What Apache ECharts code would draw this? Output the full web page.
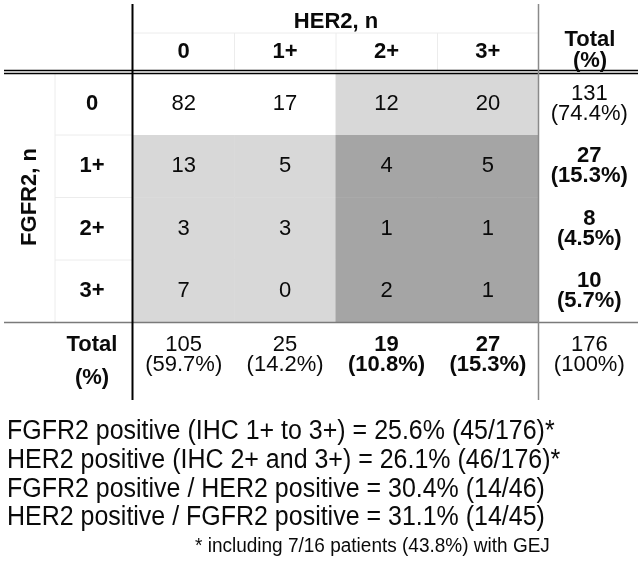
<!DOCTYPE html>
<html>
<head>
<meta charset="utf-8">
<script src="https://cdn.jsdelivr.net/npm/echarts@6/dist/echarts.min.js"></script>
<style>html,body{margin:0;padding:0;background:#fff;}#c{width:644px;height:562px;}</style>
</head>
<body>
<div id="c"></div>
<script>
// ---- data ----
const her2Levels = ['0', '1+', '2+', '3+'];
const fgfr2Levels = ['0', '1+', '2+', '3+'];
const her2Positive = [false, false, true, true];
const fgfr2Positive = [false, true, true, true];
// rows = FGFR2 level, columns = HER2 level
const counts = [
  [82, 17, 12, 20],
  [13, 5, 4, 5],
  [3, 3, 1, 1],
  [7, 0, 2, 1]
];
const rowTotals = [131, 27, 8, 10];
const rowPct = ['74.4%', '15.3%', '4.5%', '5.7%'];
const colTotals = [105, 25, 19, 27];
const colPct = ['59.7%', '14.2%', '10.8%', '15.3%'];
const grandTotal = 176;
const grandPct = '100%';
const notes = [
  'FGFR2 positive (IHC 1+ to 3+) = 25.6% (45/176)*',
  'HER2 positive (IHC 2+ and 3+) = 26.1% (46/176)*',
  'FGFR2 positive / HER2 positive = 30.4% (14/46)',
  'HER2 positive / FGFR2 positive = 31.1% (14/45)'
];
const footnote = '* including 7/16 patients (43.8%) with GEJ';

// ---- build ----
const FONT = '"Liberation Sans", Arial, sans-serif';
const INK = '#0a0a0a';
const xCats = her2Levels.concat(['Total']);

const mainData = [];
counts.forEach((row, r) => {
  row.forEach((v, c) => {
    const shade = (fgfr2Positive[r] ? 1 : 0) + (her2Positive[c] ? 1 : 0);
    mainData.push({ value: [c, r, shade, String(v)] });
  });
  mainData.push({
    value: [her2Levels.length, r, 0, rowTotals[r] + '\n(' + rowPct[r] + ')'],
    label: { fontWeight: fgfr2Positive[r] ? 'bold' : 'normal' }
  });
});
const totalData = colTotals.map((t, c) => ({
  value: [c, 0, 0, t + '\n(' + colPct[c] + ')'],
  label: { fontWeight: her2Positive[c] ? 'bold' : 'normal' }
}));
totalData.push({ value: [her2Levels.length, 0, 0, grandTotal + '\n(' + grandPct + ')'] });

const chart = echarts.init(document.getElementById('c'), null, { renderer: 'canvas' });

const line = (x1, y1, x2, y2, color, w) => ({
  type: 'line', z: 100, silent: true,
  shape: { x1, y1, x2, y2 },
  style: { stroke: color, lineWidth: w }
});
const txt = (x, y, text, size, weight, extra) => Object.assign({
  type: 'text', z: 100, silent: true, x, y,
  style: Object.assign({
    text, fontSize: size, fontWeight: weight, fontFamily: FONT, fill: INK,
    align: 'center', verticalAlign: 'middle'
  }, (extra && extra.style) || {})
}, extra && extra.props || {});

const faint = '#ececec';
const graphics = [
  // faint cell separators
  line(133, 33, 538, 33, faint, 1),
  line(234.5, 33, 234.5, 70, faint, 1),
  line(336, 33, 336, 70, faint, 1),
  line(437.5, 33, 437.5, 70, faint, 1),
  line(55, 74, 55, 322, faint, 1),
  line(55, 135, 132, 135, faint, 1),
  line(55, 197.5, 132, 197.5, faint, 1),
  line(55, 260, 132, 260, faint, 1),
  // structural lines
  line(4, 70.5, 638, 70.5, '#000', 1.3),
  line(4, 73.5, 638, 73.5, '#000', 1.3),
  line(4, 322.5, 638, 322.5, '#7a7a7a', 1.5),
  line(132.5, 4, 132.5, 400, '#000', 2),
  line(538.5, 4, 538.5, 400, '#8a8a8a', 1.5),
  // headers
  txt(336, 22, 'HER2, n', 22, 'bold'),
  txt(590, 50, 'Total\n(%)', 22, 'bold', { style: { lineHeight: 21 } }),
  txt(30, 197, 'FGFR2, n', 22, 'bold', { props: { rotation: Math.PI / 2 } })
];
const noteY = [432, 461, 490, 518];
notes.forEach((n, i) => {
  graphics.push(txt(7, noteY[i], n, 27, 'normal', { style: { align: 'left' }, props: { scaleX: 0.925 } }));
});
graphics.push(txt(195, 546, footnote, 20, 'normal', { style: { align: 'left' }, props: { scaleX: 0.95 } }));

const labelBase = {
  show: true, fontFamily: FONT, fontSize: 22, color: INK, lineHeight: 20,
  formatter: p => p.value[3]
};

chart.setOption({
  animation: false,
  backgroundColor: '#fff',
  grid: [
    { left: 133, top: 73, width: 507, height: 249 },
    { left: 133, top: 323, width: 507, height: 77 }
  ],
  xAxis: [
    {
      type: 'category', data: xCats, gridIndex: 0, position: 'top',
      axisLine: { show: false }, axisTick: { show: false }, splitLine: { show: false },
      axisLabel: {
        margin: 10, fontSize: 22, fontWeight: 'bold', fontFamily: FONT, color: INK,
        formatter: v => (v === 'Total' ? '' : v)
      }
    },
    {
      type: 'category', data: xCats, gridIndex: 1,
      axisLine: { show: false }, axisTick: { show: false }, axisLabel: { show: false }, splitLine: { show: false }
    }
  ],
  yAxis: [
    {
      type: 'category', data: fgfr2Levels, gridIndex: 0, inverse: true,
      axisLine: { show: false }, axisTick: { show: false }, splitLine: { show: false },
      axisLabel: { margin: 41, align: 'center', fontSize: 22, fontWeight: 'bold', fontFamily: FONT, color: INK }
    },
    {
      type: 'category', data: ['Total'], gridIndex: 1,
      axisLine: { show: false }, axisTick: { show: false }, splitLine: { show: false },
      axisLabel: {
        margin: 41, align: 'center', fontSize: 22, fontWeight: 'bold', fontFamily: FONT, color: INK,
        lineHeight: 33, padding: [7, 0, 0, 0],
        formatter: () => 'Total\n(%)'
      }
    }
  ],
  visualMap: {
    type: 'piecewise', show: false, dimension: 2, seriesIndex: [0, 1],
    pieces: [
      { value: 0, color: '#ffffff' },
      { value: 1, color: '#d8d8d8' },
      { value: 2, color: '#a5a5a5' }
    ]
  },
  series: [
    {
      type: 'heatmap', xAxisIndex: 0, yAxisIndex: 0, data: mainData,
      label: labelBase, emphasis: { disabled: true }, itemStyle: { borderWidth: 0 }
    },
    {
      type: 'heatmap', xAxisIndex: 1, yAxisIndex: 1, data: totalData,
      label: Object.assign({}, labelBase, { offset: [0, -7] }), emphasis: { disabled: true }
    }
  ],
  graphic: graphics
});
</script>
</body>
</html>
